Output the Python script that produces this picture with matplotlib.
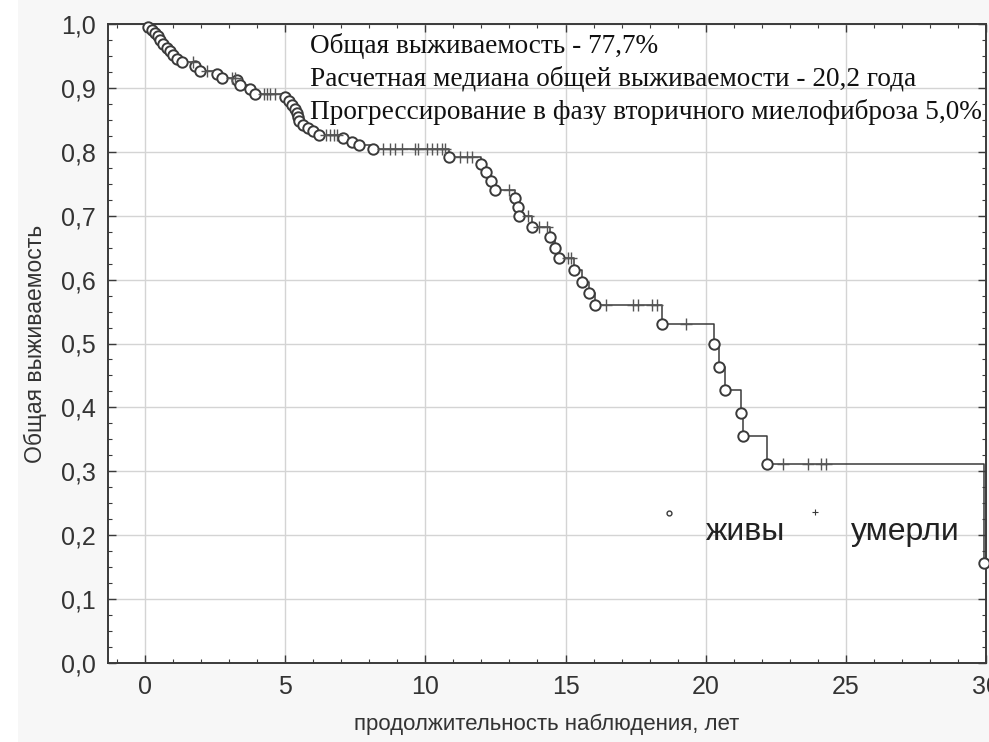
import numpy as np
import matplotlib
matplotlib.use("Agg")
import matplotlib.pyplot as plt
from matplotlib.ticker import MultipleLocator, FixedLocator, FixedFormatter
from matplotlib.patches import Rectangle

# Моменты событий (годы) и значение выживаемости после события (кружки)
event_t = [0.12, 0.24, 0.36, 0.48, 0.55, 0.65, 0.77, 0.89, 1.01, 1.13, 1.31,
           1.80, 1.96, 2.56, 2.74, 3.27, 3.39, 3.75, 3.93,
           5.00, 5.12, 5.24, 5.36, 5.42, 5.45, 5.48, 5.65, 5.83, 6.00, 6.20,
           7.08, 7.38, 7.65, 8.15,
           10.85, 12.00, 12.18, 12.35, 12.50, 13.20, 13.30, 13.35, 13.80,
           14.44, 14.64, 14.76, 15.32, 15.60, 15.85, 16.07, 18.45,
           20.31, 20.48, 20.68, 21.27, 21.32, 22.20, 29.94]
event_s = [0.995, 0.991, 0.986, 0.981, 0.975, 0.969, 0.963, 0.958, 0.952, 0.946, 0.940,
           0.935, 0.927, 0.922, 0.916, 0.912, 0.904, 0.898, 0.891,
           0.886, 0.879, 0.873, 0.867, 0.861, 0.855, 0.848, 0.842, 0.837, 0.832, 0.827,
           0.821, 0.815, 0.810, 0.804,
           0.792, 0.781, 0.768, 0.755, 0.741, 0.727, 0.713, 0.699, 0.683,
           0.666, 0.650, 0.634, 0.615, 0.597, 0.579, 0.560, 0.530,
           0.500, 0.463, 0.427, 0.391, 0.356, 0.312, 0.156]

# Цензурированные наблюдения (крестики)
cens_t = [1.70, 2.20, 3.10, 3.20,
          4.23, 4.35, 4.46, 4.64,
          6.45, 6.60, 6.75, 6.85,
          8.50, 8.75, 8.93, 9.18, 9.64, 9.75, 10.06, 10.24, 10.42, 10.60, 10.71,
          11.25, 11.50, 11.67, 12.97, 13.65, 14.05, 14.35, 15.10, 15.20,
          16.45, 17.40, 17.60, 18.10, 18.25, 19.30,
          22.75, 23.65, 24.10, 24.30]

annot_lines = ["Общая выживаемость - 77,7%",
               "Расчетная медиана общей выживаемости - 20,2 года",
               "Прогрессирование в фазу вторичного миелофиброза 5,0%"]

x_ticks = [0, 5, 10, 15, 20, 25, 30]
x_labels = ["0", "5", "10", "15", "20", "25", "30"]
y_ticks = [0.0, 0.1, 0.2, 0.3, 0.4, 0.5, 0.6, 0.7, 0.8, 0.9, 1.0]
y_labels = ["0,0", "0,1", "0,2", "0,3", "0,4", "0,5", "0,6", "0,7", "0,8", "0,9", "1,0"]

SANS = ["Liberation Sans", "DejaVu Sans"]
LINE = "#3a3a3a"

fig = plt.figure(figsize=(9.89, 7.42), dpi=100, facecolor="white")
fig.patches.append(Rectangle((18 / 989, 0), 1, 1, transform=fig.transFigure,
                             facecolor="#f7f7f7", edgecolor="none", zorder=-10))
ax = fig.add_axes([108 / 989, 1 - 663 / 742, (986 - 108) / 989, (663 - 24) / 742])
ax.set_facecolor("white")

# ступенчатая кривая Каплана-Мейера
step_t = np.array([0.0] + event_t)
step_s = np.array([1.0] + event_s)
ax.step(step_t, step_s, where="post", color=LINE, lw=1.1, zorder=3)

ax.plot(event_t, event_s, ls="none", marker="o", ms=7.5, mfc="white",
        mec=LINE, mew=1.4, zorder=4, clip_on=False)

idx = np.searchsorted(step_t, cens_t, side="right") - 1
ax.plot(cens_t, step_s[idx], ls="none", marker="+", ms=8, mew=1.0,
        color="#555555", zorder=4)

# легенда внутри поля графика
ax.plot([18.7], [0.235], ls="none", marker="o", ms=3.5, mfc="white", mec=LINE, mew=1.0)
ax.plot([23.9], [0.237], ls="none", marker="+", ms=4, mew=0.8, color=LINE)
ax.text(20.0, 0.205, "живы", family=SANS, fontsize=23, color="#222222", va="center")
ax.text(25.2, 0.205, "умерли", family=SANS, fontsize=23, color="#222222", va="center")

for i, line in enumerate(annot_lines):
    ax.text(5.9, 0.966 - i * 0.052, line, family="Liberation Serif", fontsize=19.6,
            color="#111111", va="center", ha="left")

ax.set_xlim(-1.32, 30)
ax.set_ylim(0, 1)
ax.xaxis.set_major_locator(FixedLocator(x_ticks))
ax.xaxis.set_major_formatter(FixedFormatter(x_labels))
ax.yaxis.set_major_locator(FixedLocator(y_ticks))
ax.yaxis.set_major_formatter(FixedFormatter(y_labels))
ax.xaxis.set_minor_locator(MultipleLocator(1))
ax.yaxis.set_minor_locator(MultipleLocator(0.025))
ax.tick_params(which="both", direction="in", top=True, right=True, color=LINE)
ax.tick_params(which="major", length=6, width=1.0, labelsize=18, pad=9, labelcolor="#333333")
ax.tick_params(which="minor", length=3, width=0.8)
for lab in ax.get_xticklabels() + ax.get_yticklabels():
    lab.set_family(SANS)

ax.grid(True, which="major", color="#d4d4d4", lw=1.0)
ax.set_axisbelow(True)
for sp in ax.spines.values():
    sp.set_color(LINE)
    sp.set_linewidth(1.4)

ax.set_xlabel("продолжительность наблюдения, лет", family=SANS, fontsize=16,
              color="#333333", labelpad=10)
ax.set_ylabel("Общая выживаемость", family=SANS, fontsize=16.5,
              color="#333333", labelpad=10)

fig.savefig("out.png", dpi=100, facecolor=fig.get_facecolor())
